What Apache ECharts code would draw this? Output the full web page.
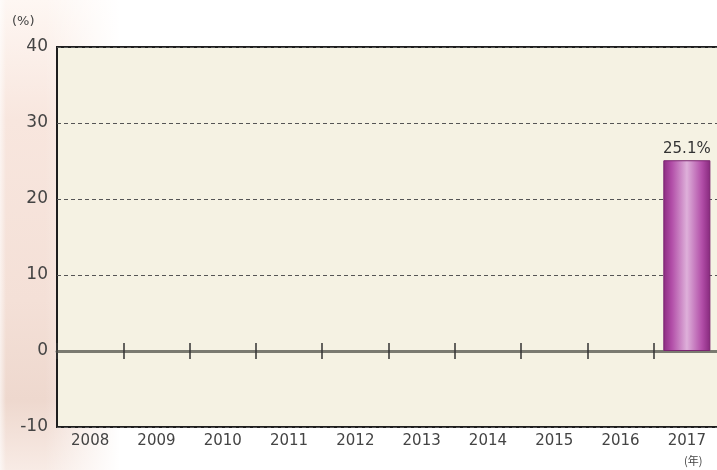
<!DOCTYPE html>
<html><head><meta charset="utf-8">
<script src="https://cdn.jsdelivr.net/npm/echarts@6/dist/echarts.min.js"></script>
<style>
html,body{margin:0;padding:0;width:717px;height:470px;overflow:hidden;background:#ffffff;}
#bg{position:absolute;left:0;top:0;width:717px;height:470px;
background:linear-gradient(to right, rgba(255,255,255,0.6) 0px, rgba(255,255,255,0) 6px, rgba(255,255,255,0) 45px, rgba(255,255,255,1) 120px),
linear-gradient(to bottom, #fef7f3 0px, #f8e6de 120px, #f4e0d7 300px, #eed8ce 400px, #f8ebe5 470px);}
#c{position:absolute;left:0;top:0;width:717px;height:470px;}
</style></head><body><div id="bg"></div><div id="c"></div>
<script>
const categories = ['2008','2009','2010','2011','2012','2013','2014','2015','2016','2017'];
const values = [null,null,null,null,null,null,null,null,null,25.1];
const yTicks = [-10,0,10,20,30,40];

const chart = echarts.init(document.getElementById('c'));
const barGrad = new echarts.graphic.LinearGradient(0,0,1,0,[
  {offset:0,color:'#8c2c82'},{offset:0.18,color:'#b24ea8'},{offset:0.5,color:'#deb0da'},
  {offset:0.82,color:'#b24ea8'},{offset:1,color:'#86287c'}]);
chart.setOption({
  animation:false,
  grid:{left:57,width:663,top:47,bottom:43,outerBoundsMode:'none',containLabel:false,show:true,backgroundColor:'#f5f2e3',borderColor:'#1e1e1e',borderWidth:2},
  graphic:[
    {type:'text',left:12,top:15,style:{text:'(%)',fontSize:13,fill:'#444',fontFamily:'DejaVu Sans'}},
    {type:'text',left:684,top:455,style:{text:'(年)',fontSize:11,fill:'#444',fontFamily:'Noto Sans CJK JP'}}
  ],
  xAxis:[
    {type:'category',data:categories,position:'bottom',axisLine:{onZero:false,show:false},axisTick:{show:false},
     axisLabel:{color:'#444',fontSize:15,fontFamily:'DejaVu Sans',margin:7}},
    {type:'category',data:categories,position:'bottom',offset:-76,axisLine:{onZero:false,lineStyle:{color:'#7a7a70',width:3}},
     axisTick:{show:true,inside:true,length:8,lineStyle:{color:'#333',width:1.5}},axisLabel:{show:false}},
    {type:'category',data:categories,position:'bottom',offset:-76,axisLine:{onZero:false,show:false},
     axisTick:{show:true,inside:false,length:8,lineStyle:{color:'#333',width:1.5}},axisLabel:{show:false}}
  ],
  yAxis:{type:'value',min:yTicks[0],max:yTicks[yTicks.length-1],interval:10,
    axisLine:{show:false},axisTick:{show:false},
    axisLabel:{color:'#444',fontSize:17,fontFamily:'DejaVu Sans',margin:9,
      formatter:v=>yTicks.includes(v)?String(v):''},
    splitLine:{show:true,lineStyle:{color:'#555',type:[4,3],width:1}}},
  series:[{type:'bar',data:values,xAxisIndex:0,barWidth:'71%',
    itemStyle:{color:barGrad,borderColor:'#7a2470',borderWidth:1},
    label:{show:true,position:'top',formatter:p=>p.value+'%',color:'#333',fontSize:15,fontFamily:'DejaVu Sans',distance:4}}]
});
</script></body></html>
